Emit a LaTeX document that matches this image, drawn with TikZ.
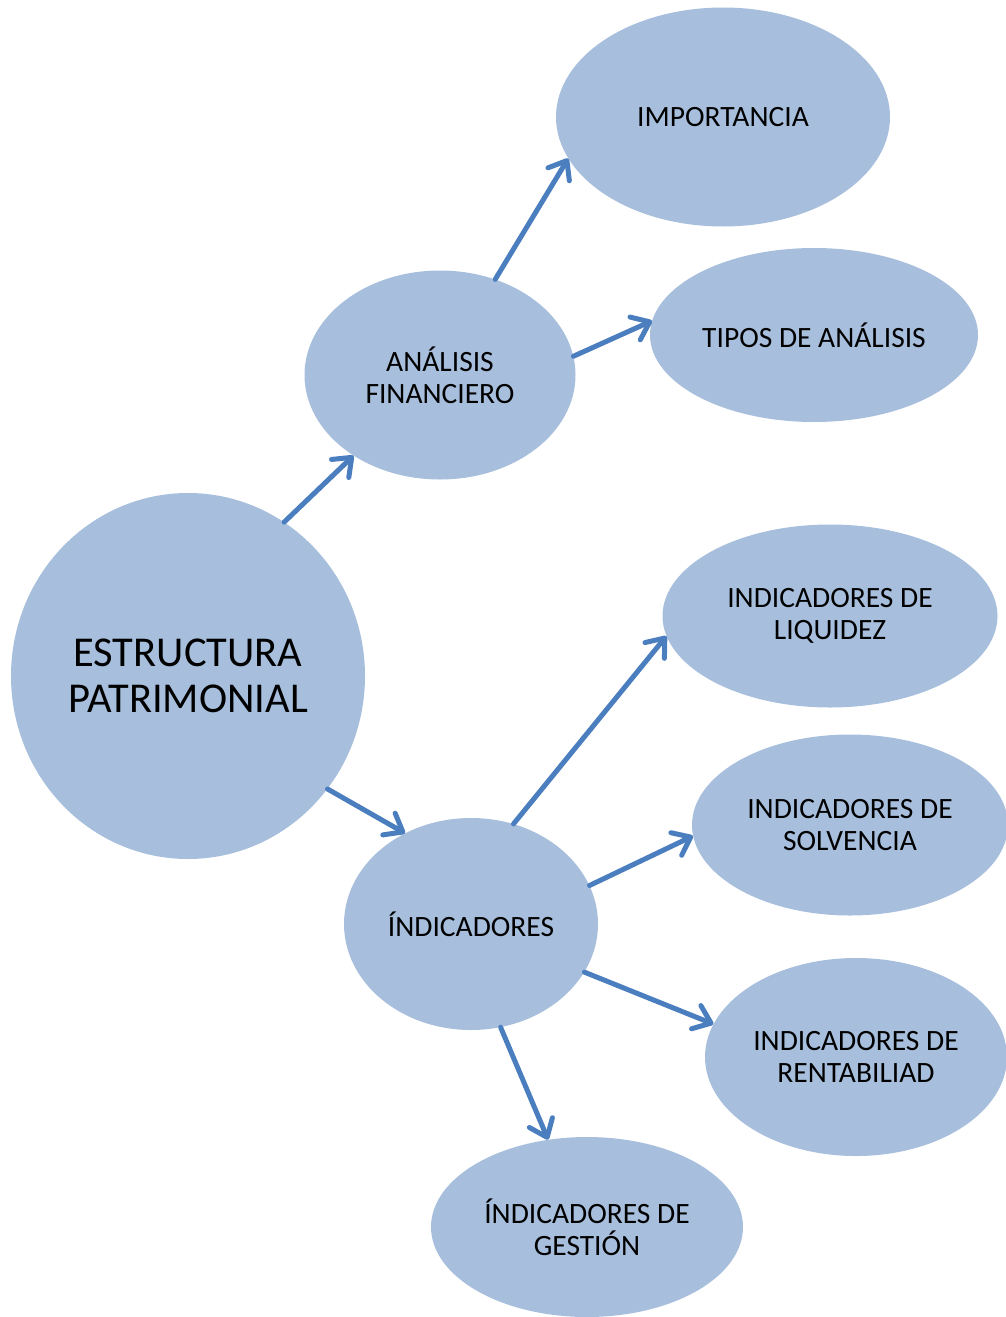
\documentclass[tikz,border=0pt]{standalone}
\usepackage{fontspec}
\setmainfont{Carlito}
\usetikzlibrary{shapes.geometric,arrows.meta}
\definecolor{bubble}{HTML}{A7BFDD}
\definecolor{arrowc}{HTML}{4A7EBF}
\begin{document}
\begin{tikzpicture}[x=1pt,y=-1pt,
  bub/.style={ellipse,fill=bubble,inner sep=0pt,align=center,font=\fontsize{29.5}{32}\selectfont},
  conn/.style={draw=arrowc,line width=5pt,line cap=round,-{Straight Barb[round,length=16pt,width=25pt]}}]
\useasboundingbox (0,0) rectangle (1006,1317);
\node[bub,minimum width=354,minimum height=366,font=\fontsize{42.5}{46}\selectfont] (estr) at (188,676) {ESTRUCTURA\\PATRIMONIAL};
\node[bub,minimum width=271,minimum height=209] (anal) at (440,375) {ANÁLISIS\\FINANCIERO};
\node[bub,minimum width=334,minimum height=219] (imp) at (723,117) {IMPORTANCIA};
\node[bub,minimum width=328,minimum height=174] (tipos) at (814,335) {TIPOS DE ANÁLISIS};
\node[bub,minimum width=335,minimum height=183] (liq) at (830,616) {INDICADORES DE\\LIQUIDEZ};
\node[bub,minimum width=316,minimum height=181] (solv) at (850,825) {INDICADORES DE\\SOLVENCIA};
\node[bub,minimum width=254,minimum height=212] (ind) at (471,924) {ÍNDICADORES};
\node[bub,minimum width=302,minimum height=198] (rent) at (856,1057) {INDICADORES DE\\RENTABILIAD};
\node[bub,minimum width=312,minimum height=180] (gest) at (587,1227) {ÍNDICADORES DE\\GESTIÓN};
\draw[conn] (estr.58) -- (anal.223);
\draw[conn] (anal.60) -- (imp.195);
\draw[conn] (anal.8) -- (tipos.175);
\draw[conn] (estr.-39) -- (ind.126);
\draw[conn] (ind.67) -- (liq.187);
\draw[conn] (ind.18) -- (solv.184);
\draw[conn] (ind.-23) -- (rent.167);
\draw[conn] (ind.-74) -- (gest.114);
\end{tikzpicture}
\end{document}
